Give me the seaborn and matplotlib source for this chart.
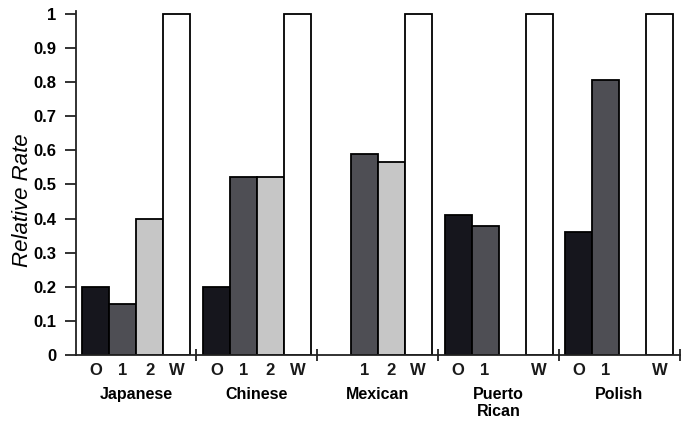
import numpy as np
import pandas as pd
import matplotlib
matplotlib.use("Agg")
import matplotlib.pyplot as plt
import matplotlib.transforms as mtransforms
import seaborn as sns

# ---- data ----
groups = ["Japanese", "Chinese", "Mexican", "Puerto\nRican", "Polish"]
slots = ["O", "1", "2", "W"]
vals_O = [0.199, 0.200, None, 0.410, 0.361]
vals_1 = [0.149, 0.522, 0.588, 0.378, 0.805]
vals_2 = [0.400, 0.522, 0.566, None, None]
vals_W = [1.0, 1.0, 1.0, 1.0, 1.0]
y_ticks = [0, 0.1, 0.2, 0.3, 0.4, 0.5, 0.6, 0.7, 0.8, 0.9, 1]
y_ticklabels = ["0", "0.1", "0.2", "0.3", "0.4", "0.5", "0.6", "0.7", "0.8", "0.9", "1"]

sns.set_theme(style="white")
plt.rcParams["font.family"] = ["Liberation Sans", "DejaVu Sans"]
plt.rcParams["text.color"] = "black"
plt.rcParams["axes.labelcolor"] = "black"
plt.rcParams["xtick.color"] = "black"
plt.rcParams["ytick.color"] = "black"

pitch = 4.47
rows = []
series = {"O": vals_O, "1": vals_1, "2": vals_2, "W": vals_W}
for gi, g in enumerate(groups):
    for si, s in enumerate(slots):
        v = series[s][gi]
        if v is None:
            continue
        rows.append({"pos": gi * pitch + si + 0.5, "value": v, "slot": s, "group": g})
df = pd.DataFrame(rows)

palette = {"O": "#16161d", "1": "#4e4e54", "2": "#c6c6c6", "W": "#ffffff"}

fig = plt.figure(figsize=(6.92, 4.24), dpi=100)
ax = fig.add_axes([0.110, 0.163, 0.873, 0.812])

sns.barplot(data=df, x="pos", y="value", hue="slot", hue_order=slots,
            palette=palette, native_scale=True, dodge=False, width=1.0,
            edgecolor="black", linewidth=1.3, legend=False, ax=ax,
            saturation=1)

ax.set_xlim(-0.22, 4 * pitch + 4.25)
ax.set_ylim(0, 1.01)

for side in ["top", "right"]:
    ax.spines[side].set_visible(False)
for side in ["left", "bottom"]:
    ax.spines[side].set_color("#222222")
    ax.spines[side].set_linewidth(1.3)

ax.set_yticks(y_ticks)
ax.set_yticklabels(y_ticklabels, fontsize=12, fontweight="bold", color="black")
ax.tick_params(axis="y", direction="out", length=8, width=1.3, color="#222222", pad=6, left=True)

# group separator ticks (major) and slot labels (minor)
seps = [gi * pitch - 0.25 for gi in range(1, len(groups))] + [(len(groups) - 1) * pitch + 4.25]
ax.set_xticks(seps)
ax.set_xticklabels([""] * len(seps))
ax.tick_params(axis="x", which="major", direction="inout", length=8, width=1.3, color="#222222", bottom=True)

minor_pos = list(df["pos"])
minor_lab = list(df["slot"])
ax.set_xticks(minor_pos, minor=True)
ax.set_xticklabels(minor_lab, minor=True, fontsize=12, fontweight="bold", color="#1a1a1a")
ax.tick_params(axis="x", which="minor", length=0, pad=6)
ax.set_xlabel("")

trans = mtransforms.blended_transform_factory(ax.transData, ax.transAxes)
for gi, g in enumerate(groups):
    ax.text(gi * pitch + 2.0, -0.092, g, transform=trans, ha="center", va="top",
            fontsize=11.5, fontweight="bold", color="black", linespacing=1.2)

ax.set_ylabel("Relative Rate", fontsize=16, fontstyle="italic", color="black")
ax.yaxis.set_label_coords(-0.071, 0.45)

fig.savefig("out.png", dpi=100)
